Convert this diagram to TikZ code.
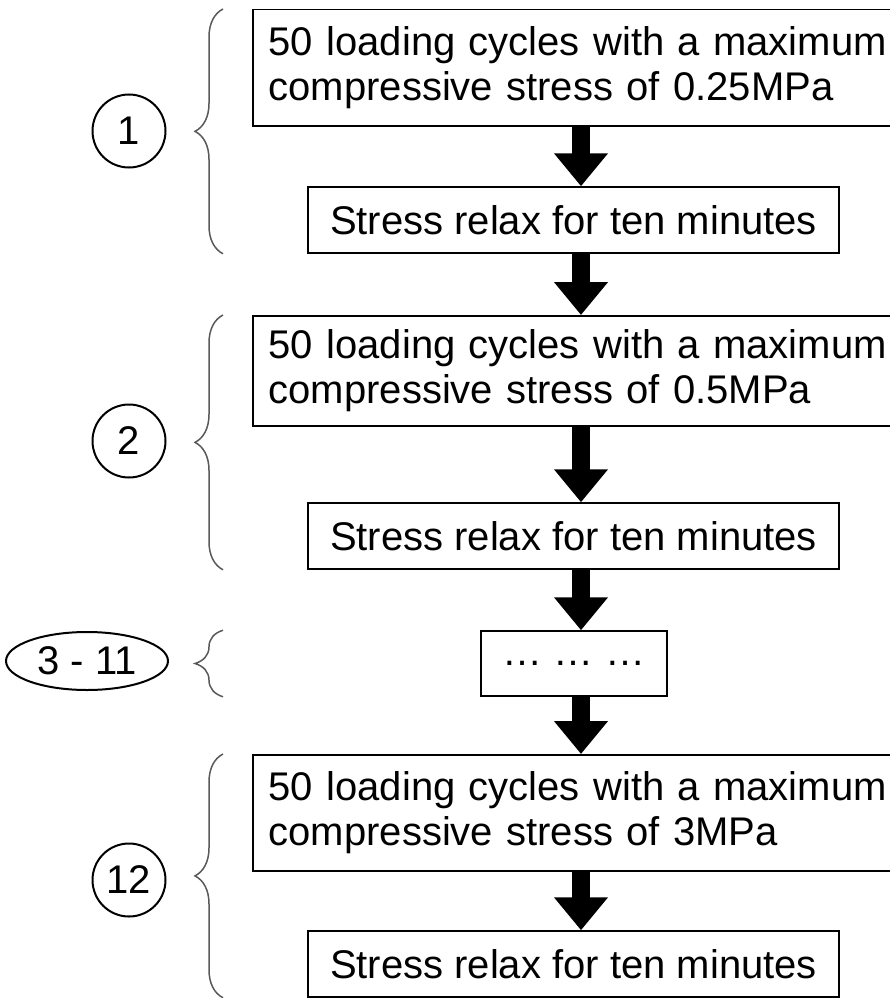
\documentclass[tikz,border=0pt]{standalone}
\usepackage{fontspec}
\setmainfont{Liberation Sans}
\usetikzlibrary{arrows.meta,shapes.geometric,decorations.pathreplacing}

\tikzset{
  loadbox/.style={draw, line width=1.5pt, anchor=north west, align=left,
    text width=624pt, inner xsep=16pt, minimum height=116pt},
  relaxbox/.style={draw, line width=1.5pt, minimum width=531pt, minimum height=66pt},
  flow/.style={line width=18pt, -{Triangle[width=52pt,length=33pt]}},
  group/.style={decorate, decoration={brace,amplitude=28pt}, draw=black!65, line width=1.5pt},
  stagenum/.style={circle, draw, line width=2pt, minimum size=73pt, inner sep=0pt}
}

\begin{document}
\begin{tikzpicture}[x=1pt,y=-1pt,font=\fontsize{40}{45}\selectfont]
    \useasboundingbox (0,0) rectangle (890,998);

    % the loading steps and the relax steps
    \node[loadbox] (A1) at (252,9) {50 loading cycles with a maximum\\compressive stress of 0.25MPa};
    \node[relaxbox] (B1) at (573.5,220) {Stress relax for ten minutes};
    \node[loadbox, minimum height=110pt] (A2) at (252,315) {50 loading cycles with a maximum\\compressive stress of 0.5MPa};
    \node[relaxbox] (B2) at (573.5,536) {Stress relax for ten minutes};
    \node[draw, line width=1.5pt, minimum width=186pt, minimum height=65pt] (dots) at (574,663.5) {\ldots\ \ldots\ \ldots};
    \node[loadbox] (A3) at (252,754) {50 loading cycles with a maximum\\compressive stress of 3MPa};
    \node[relaxbox] (B3) at (573.5,964) {Stress relax for ten minutes};

    % the numbers of the stages
    \node[stagenum] (c1) at (129,131) {1};
    \node[stagenum] (c2) at (129,441) {2};
    \node[ellipse, draw, line width=2pt, minimum width=162pt, minimum height=58pt, inner sep=0pt] (c3) at (87,661) {3 - 11};
    \node[stagenum] (c12) at (129,880) {12};

    % the thick arrows (all on one vertical line)
    \coordinate (col) at (581,0);
    \draw[flow] (A1.south -| col) -- (B1.north -| col);
    \draw[flow] (B1.south -| col) -- (A2.north -| col);
    \draw[flow] (A2.south -| col) -- (B2.north -| col);
    \draw[flow] (B2.south -| col) -- (dots.north -| col);
    \draw[flow] (dots.south -| col) -- (A3.north -| col);
    \draw[flow] (A3.south -| col) -- (B3.north -| col);

    % the braces
    \coordinate (br) at (223,0);
    \draw[group] (B1.south -| br) -- (A1.north -| br);
    \draw[group] (B2.south -| br) -- (A2.north -| br);
    \draw[group] (dots.south -| br) -- (dots.north -| br);
    \draw[group] (B3.south -| br) -- (A3.north -| br);
\end{tikzpicture}
\end{document}
